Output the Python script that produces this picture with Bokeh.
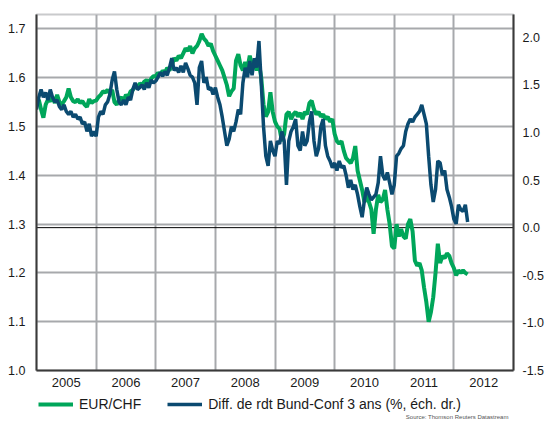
from bokeh.plotting import figure
from bokeh.layouts import column
from bokeh.models import (Range1d, LinearAxis, FixedTicker, Span, Legend, LegendItem,
                          Label, NumeralTickFormatter)
from bokeh.embed import file_html
from bokeh.resources import INLINE

# ---- data (fortnightly observations, 26 per year) ----
years = [2005, 2006, 2007, 2008, 2009, 2010, 2011, 2012]
year_labels = ["2005", "2006", "2007", "2008", "2009", "2010", "2011", "2012"]
left_ticks = [1.0, 1.1, 1.2, 1.3, 1.4, 1.5, 1.6, 1.7]
right_ticks = [-1.5, -1.0, -0.5, 0.0, 0.5, 1.0, 1.5, 2.0]

eurchf_2005 = [1.545, 1.555, 1.535, 1.518, 1.545, 1.555, 1.552, 1.560, 1.548, 1.565, 1.550, 1.545, 1.552,
               1.560, 1.578, 1.560, 1.552, 1.550, 1.556, 1.548, 1.552, 1.545, 1.540, 1.556, 1.548, 1.552]
eurchf_2006 = [1.553, 1.56, 1.565, 1.572, 1.57, 1.575, 1.568, 1.575, 1.55, 1.545, 1.555, 1.56, 1.552,
               1.565, 1.56, 1.572, 1.575, 1.583, 1.58, 1.588, 1.585, 1.592, 1.595, 1.59, 1.598, 1.603]
eurchf_2007 = [1.603, 1.61, 1.606, 1.614, 1.61, 1.62, 1.615, 1.625, 1.64, 1.635, 1.645, 1.64, 1.65,
               1.66, 1.655, 1.665, 1.65, 1.66, 1.665, 1.675, 1.69, 1.68, 1.675, 1.665, 1.67, 1.655]
eurchf_2008 = [1.645, 1.635, 1.625, 1.615, 1.60, 1.585, 1.562, 1.572, 1.578, 1.635, 1.648, 1.625, 1.615,
               1.632, 1.62, 1.645, 1.625, 1.63, 1.615, 1.63, 1.60, 1.545, 1.52, 1.53, 1.57, 1.53]
eurchf_2009 = [1.51, 1.50, 1.495, 1.47, 1.485, 1.525, 1.53, 1.515, 1.525, 1.53, 1.52, 1.528, 1.515,
               1.53, 1.525, 1.548, 1.553, 1.535, 1.525, 1.53, 1.52, 1.525, 1.515, 1.52, 1.51, 1.515]
eurchf_2010 = [1.485, 1.47, 1.465, 1.47, 1.45, 1.435, 1.43, 1.425, 1.435, 1.46, 1.41, 1.39, 1.37,
               1.345, 1.36, 1.345, 1.33, 1.28, 1.33, 1.36, 1.345, 1.35, 1.37, 1.33, 1.30, 1.255]
eurchf_2011 = [1.25, 1.30, 1.275, 1.29, 1.275, 1.27, 1.30, 1.31, 1.285, 1.225, 1.215, 1.22, 1.205,
               1.17, 1.14, 1.10, 1.12, 1.15, 1.20, 1.26, 1.22, 1.235, 1.23, 1.24, 1.235, 1.22]
eurchf_2012 = [1.21, 1.195, 1.205, 1.20, 1.205, 1.20, 1.197]

spread_2005 = [1.24, 1.37, 1.45, 1.37, 1.42, 1.34, 1.45, 1.37, 1.32, 1.34, 1.27, 1.24, 1.29,
               1.22, 1.19, 1.22, 1.16, 1.19, 1.14, 1.16, 1.09, 1.11, 1.01, 1.09, 0.96, 1.01]
spread_2006 = [0.96, 1.16, 1.22, 1.19, 1.29, 1.32, 1.40, 1.55, 1.64, 1.45, 1.32, 1.29, 1.34,
               1.29, 1.37, 1.34, 1.45, 1.52, 1.45, 1.47, 1.50, 1.45, 1.52, 1.47, 1.55, 1.52]
spread_2007 = [1.54, 1.58, 1.63, 1.59, 1.64, 1.60, 1.68, 1.78, 1.65, 1.68, 1.63, 1.70, 1.63,
               1.73, 1.67, 1.60, 1.58, 1.52, 1.29, 1.68, 1.75, 1.52, 1.58, 1.45, 1.47, 1.40]
spread_2008 = [1.47, 1.37, 1.29, 1.16, 1.01, 0.86, 0.93, 1.06, 1.01, 1.11, 1.24, 1.19, 1.52,
               1.68, 1.58, 1.75, 1.60, 1.78, 1.68, 1.96, 1.52, 1.06, 0.75, 0.65, 0.91, 0.81]
spread_2009 = [0.75, 0.91, 0.88, 1.01, 0.91, 0.45, 0.91, 1.01, 1.06, 1.14, 0.86, 0.81, 1.01,
               0.86, 0.91, 1.11, 1.22, 0.91, 0.75, 0.83, 1.06, 1.14, 0.86, 0.75, 0.70, 0.63]
spread_2010 = [0.68, 0.60, 0.70, 0.63, 0.65, 0.55, 0.42, 0.50, 0.40, 0.45, 0.35, 0.22, 0.11,
               0.29, 0.42, 0.35, 0.29, 0.32, 0.35, 0.47, 0.75, 0.55, 0.50, 0.58, 0.47, 0.35]
spread_2011 = [0.45, 0.75, 0.78, 0.83, 0.86, 1.01, 1.09, 1.14, 1.11, 1.16, 1.19, 1.22, 1.29,
               1.19, 1.09, 0.75, 0.45, 0.27, 0.40, 0.70, 0.68, 0.55, 0.60, 0.40, 0.32, 0.22]
spread_2012 = [0.09, 0.04, 0.24, 0.19, 0.17, 0.24, 0.06]

eurchf_by_year = [eurchf_2005, eurchf_2006, eurchf_2007, eurchf_2008,
                  eurchf_2009, eurchf_2010, eurchf_2011, eurchf_2012]
spread_by_year = [spread_2005, spread_2006, spread_2007, spread_2008,
                  spread_2009, spread_2010, spread_2011, spread_2012]

x, eurchf, spread = [], [], []
for yr, ev, sv in zip(years, eurchf_by_year, spread_by_year):
    for i, (e, s) in enumerate(zip(ev, sv)):
        x.append(yr + i / 26.0)
        eurchf.append(e)
        spread.append(s)

GREEN = "#00A65A"
BLUE = "#0B4A70"
GRID = "#A7A9AC"
FONT = "Liberation Sans"
TXT = "#1A1A1A"

p = figure(width=555, height=394, x_range=Range1d(2005, 2013), y_range=Range1d(1.0, 1.7295),
           output_backend="svg", toolbar_location=None,
           min_border_left=36, min_border_right=42, min_border_top=14, min_border_bottom=24)
p.extra_y_ranges = {"r": Range1d(-1.5, 2.238)}

p.outline_line_color = "#C9CACC"
p.outline_line_width = 2

# x axis: labels mid-year, grid at year starts
p.xaxis.ticker = FixedTicker(ticks=[y + 0.5 for y in years])
p.xaxis.major_label_overrides = {y + 0.5: lab for y, lab in zip(years, year_labels)}
p.xgrid.ticker = FixedTicker(ticks=years[1:])
p.ygrid.ticker = FixedTicker(ticks=left_ticks[1:])
for g in (p.xgrid, p.ygrid):
    g.grid_line_color = GRID
    g.grid_line_width = 2

p.yaxis.ticker = FixedTicker(ticks=left_ticks)
p.yaxis.formatter = NumeralTickFormatter(format="0.0")

right = LinearAxis(y_range_name="r", ticker=FixedTicker(ticks=right_ticks),
                   formatter=NumeralTickFormatter(format="0.0"))
p.add_layout(right, "right")

for ax in (p.xaxis[0], p.yaxis[0], right):
    ax.major_tick_line_color = None
    ax.minor_tick_line_color = None
    ax.axis_line_color = "#3A3A3A"
    ax.axis_line_width = 2
    ax.major_label_text_font = FONT
    ax.major_label_text_color = TXT
    ax.major_label_text_font_size = "12.5px"
p.xaxis.major_label_text_font_size = "13px"
p.xaxis.major_label_standoff = 1
p.yaxis.major_label_standoff = 5
right.major_label_standoff = 3

zero = Span(location=0, dimension="width", y_range_name="r", line_color="black",
            line_width=1, level="underlay")
p.add_layout(zero)

p.line(x, eurchf, line_color=GREEN, line_width=4)
p.line(x, spread, y_range_name="r", line_color=BLUE, line_width=3.5)

# ---- legend strip below the chart ----
leg = figure(width=555, height=27, x_range=Range1d(0, 1), y_range=Range1d(0, 1),
             output_backend="svg", toolbar_location=None,
             min_border_left=36, min_border_right=0, min_border_top=0, min_border_bottom=0,
             x_axis_location=None, y_axis_location=None, outline_line_color=None)
leg.grid.visible = False
# legend swatches only (points lie outside the strip's range)
lg = leg.line([-2, -1], [-2, -2], line_color=GREEN, line_width=4)
lb = leg.line([-2, -1], [-2, -2], line_color=BLUE, line_width=3.5)
legend = Legend(items=[LegendItem(label="EUR/CHF", renderers=[lg]),
                       LegendItem(label="Diff. de rdt Bund-Conf 3 ans (%, éch. dr.)", renderers=[lb])],
                orientation="horizontal", location=(2, 9), border_line_color=None,
                background_fill_alpha=0, margin=0, padding=0, spacing=26,
                glyph_width=35, glyph_height=16, label_height=16, label_standoff=6,
                label_text_font=FONT, label_text_font_size="14px", label_text_color=TXT)
leg.add_layout(legend, "center")
src = Label(x=1.0, y=0.04, x_offset=-5, text="Source: Thomson Reuters Datastream",
            text_font=FONT, text_font_size="6px", text_color="#555555",
            text_align="right", text_baseline="bottom")
leg.add_layout(src)

layout = column(p, leg, spacing=0)
open("out.html", "w").write(file_html(layout, INLINE))
